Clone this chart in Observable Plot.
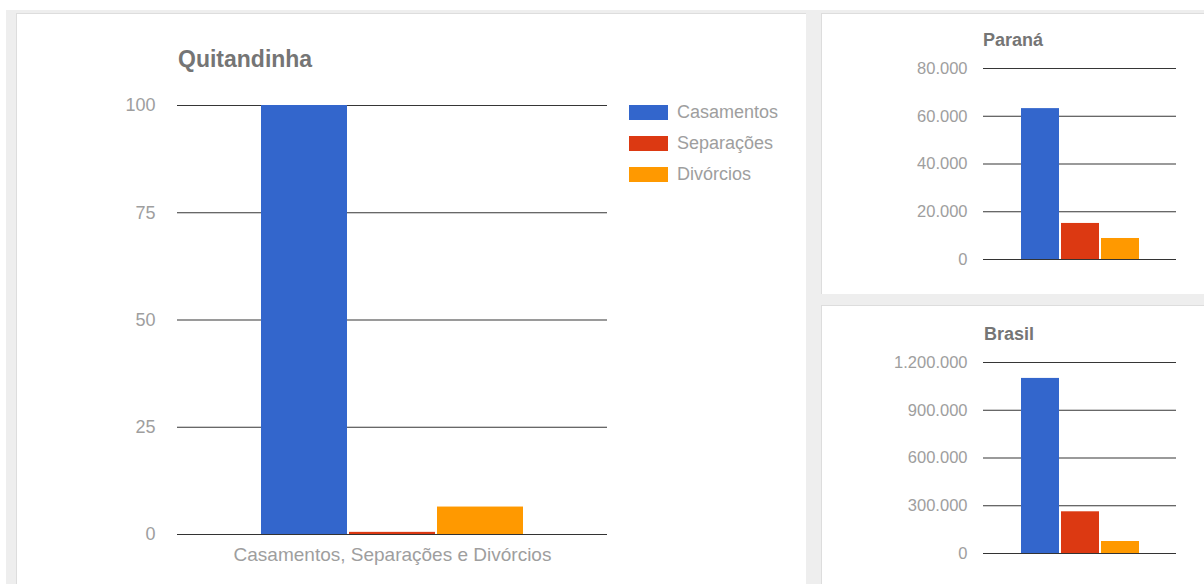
<!DOCTYPE html>
<html>
<head>
<meta charset="utf-8">
<script src="https://cdn.jsdelivr.net/npm/d3@7"></script>
<script src="https://cdn.jsdelivr.net/npm/@observablehq/plot@0.6"></script>
<style>
  html, body { margin: 0; padding: 0; }
  body { width: 1204px; height: 584px; overflow: hidden; position: relative; background: #ffffff;
         font-family: "Liberation Sans", Arial, sans-serif; }
  .bg { position: absolute; left: 6px; top: 10px; width: 1210px; height: 590px; background: #eeeeee; }
  .panel { position: absolute; background: #ffffff; border-left: 1px solid #dddddd; border-top: 1px solid #dddddd; }
  .chart { position: absolute; }
  .title { position: absolute; font-weight: bold; color: #757575; line-height: 1; white-space: nowrap; }
  .legend { position: absolute; left: 629px; top: 105px; }
  .legend .row { position: absolute; left: 0; height: 16px; white-space: nowrap; }
  .legend .sw { position: absolute; left: 0; top: 0; width: 39px; height: 15px; }
  .legend .lab { position: absolute; left: 48px; top: -3px; font-size: 18px; line-height: 1.2; color: #9e9e9e; }
</style>
</head>
<body>
<div class="bg"></div>
<div class="panel" style="left:16px;top:13px;width:789px;height:600px;"></div>
<div class="panel" style="left:821px;top:13px;width:400px;height:280px;"></div>
<div class="panel" style="left:821px;top:305px;width:400px;height:300px;"></div>

<div class="title" style="left:178px;top:48px;font-size:23px;">Quitandinha</div>
<div class="title" style="left:983px;top:31px;font-size:18px;">Paraná</div>
<div class="title" style="left:984px;top:325px;font-size:18px;">Brasil</div>

<div id="main" class="chart" style="left:16px;top:13px;"></div>
<div id="legend" class="legend"></div>
<div id="parana" class="chart" style="left:821px;top:13px;"></div>
<div id="brasil" class="chart" style="left:821px;top:306px;"></div>

<script>
// ---- data ----
const series = ["Casamentos", "Separações", "Divórcios"];
const seriesColors = ["#3366cc", "#dc3912", "#ff9900"];
const groupLabel = "Casamentos, Separações e Divórcios";

const quitandinhaValues = [100, 0.5, 6.4];
const paranaValues = [63200, 15100, 8800];
const brasilValues = [1100000, 262000, 75400];

const quitandinhaTicks = [0, 25, 50, 75, 100];
const paranaTicks = [0, 20000, 40000, 60000, 80000];
const brasilTicks = [0, 300000, 600000, 900000, 1200000];

// ---- helpers ----
const ptBR = d3.formatLocale({decimal: ",", thousands: ".", grouping: [3], currency: ["R$", ""]});
const fmt = ptBR.format(",d");

function makeChart(opts) {
  const data = series.map((s, i) => ({series: s, value: opts.values[i], group: groupLabel}));
  const marks = [
    Plot.ruleY(opts.ticks.filter(t => t > 0), {stroke: "#363636", strokeWidth: 1.2}),
    Plot.barY(data, {x: "series", y: "value", fill: "series", fx: opts.facet ? "group" : undefined}),
    Plot.ruleY([0], {stroke: "#333333", strokeWidth: 1.2}),
    Plot.axisY({ticks: opts.ticks, tickSize: 0, tickPadding: opts.tickPadding,
                tickFormat: fmt, fontSize: opts.fontSize, label: null})
  ];
  if (opts.facet) {
    marks.push(Plot.axisFx({anchor: "bottom", tickSize: 0, tickPadding: 13, fontSize: 19, label: null}));
  }
  return Plot.plot({
    width: opts.width,
    height: opts.height,
    marginLeft: opts.margin[3],
    marginRight: opts.margin[1],
    marginTop: opts.margin[0],
    marginBottom: opts.margin[2],
    style: {fontFamily: "'Liberation Sans', Arial, sans-serif", color: "#9e9e9e", background: "transparent", overflow: "visible"},
    x: {domain: series, axis: null, paddingInner: opts.padding, paddingOuter: 0,
        insetLeft: opts.inset[0], insetRight: opts.inset[1]},
    y: {domain: [0, opts.ticks[opts.ticks.length - 1]]},
    fx: opts.facet ? {padding: 0} : undefined,
    color: {domain: series, range: seriesColors},
    marks
  });
}

document.getElementById("main").append(makeChart({
  values: quitandinhaValues, ticks: quitandinhaTicks,
  width: 789, height: 571, margin: [92, 198, 50, 161],
  inset: [83, 82], padding: 0.022, fontSize: 18, tickPadding: 22, facet: true
}));

document.getElementById("parana").append(makeChart({
  values: paranaValues, ticks: paranaTicks,
  width: 383, height: 280, margin: [55, 28, 34, 162],
  inset: [38, 37], padding: 0.06, fontSize: 16.5, tickPadding: 16, facet: false
}));

document.getElementById("brasil").append(makeChart({
  values: brasilValues, ticks: brasilTicks,
  width: 383, height: 278, margin: [56, 28, 31, 162],
  inset: [38, 37], padding: 0.06, fontSize: 16.5, tickPadding: 16, facet: false
}));

// ---- legend ----
const legend = document.getElementById("legend");
const rowTops = [0, 31, 62];
series.forEach((s, i) => {
  const row = document.createElement("div");
  row.className = "row";
  row.style.top = rowTops[i] + "px";
  const sw = document.createElement("div");
  sw.className = "sw";
  sw.style.background = seriesColors[i];
  const lab = document.createElement("div");
  lab.className = "lab";
  lab.textContent = s;
  row.append(sw, lab);
  legend.append(row);
});
</script>
</body>
</html>
